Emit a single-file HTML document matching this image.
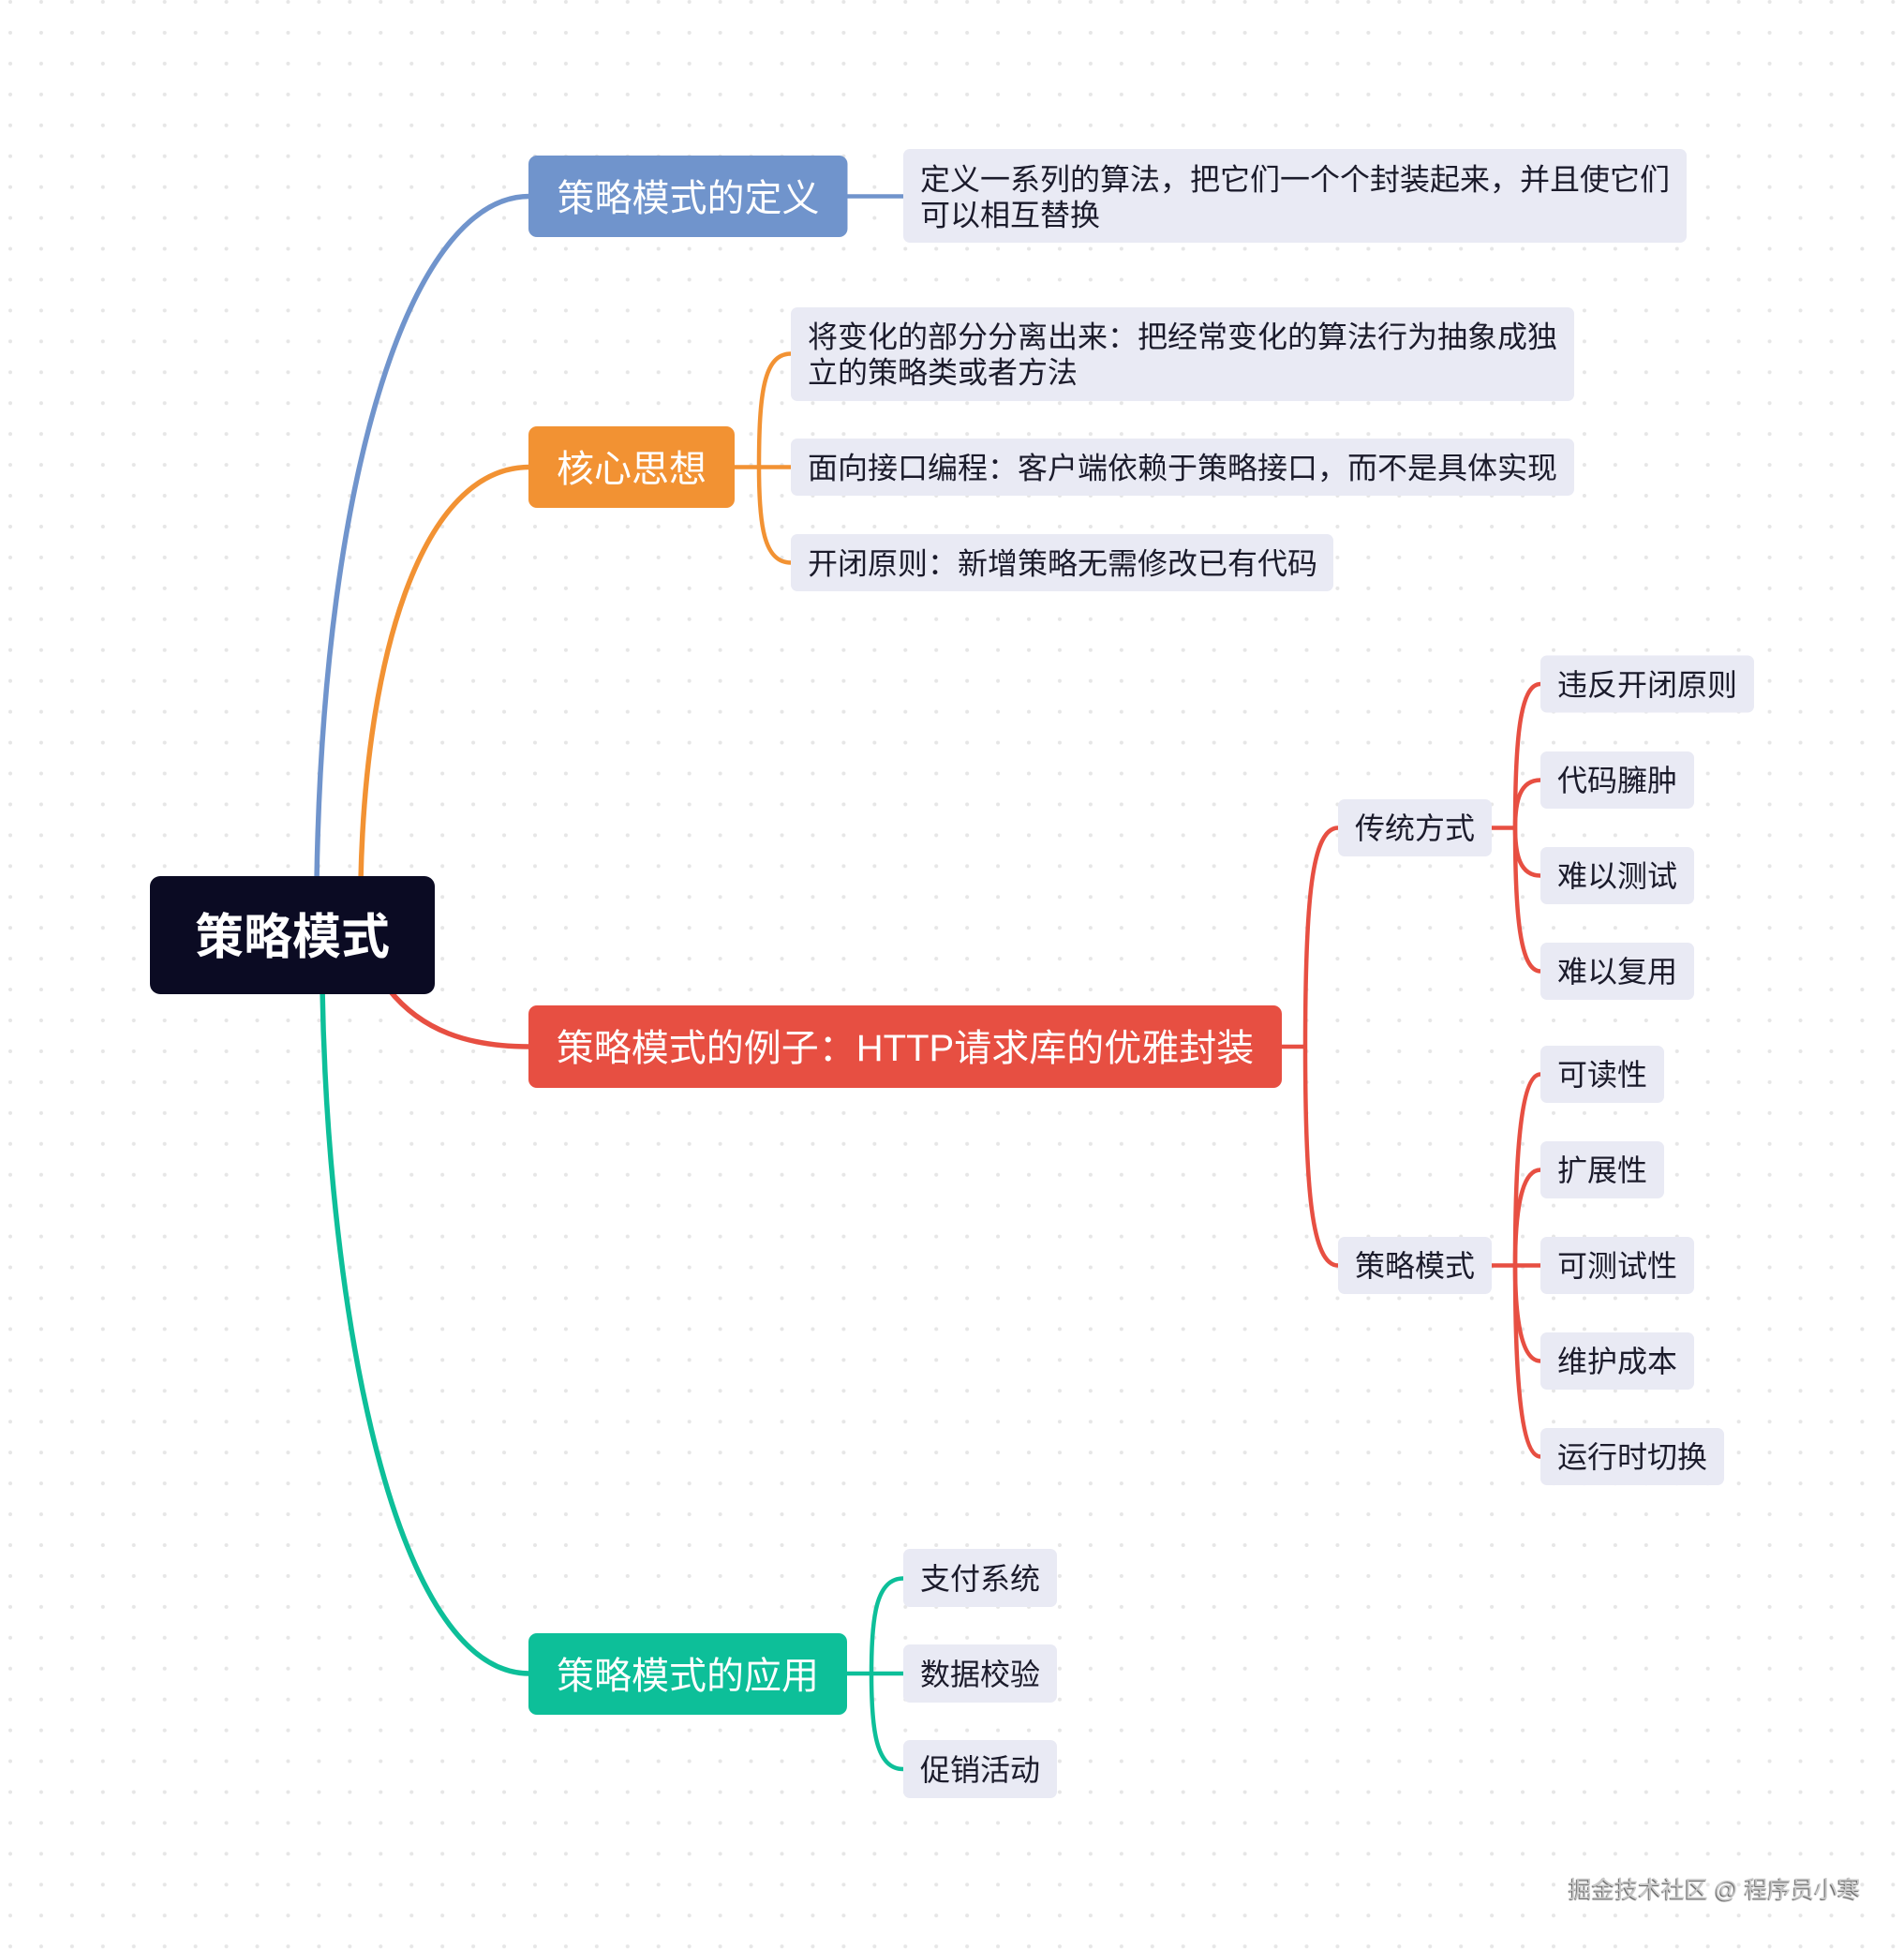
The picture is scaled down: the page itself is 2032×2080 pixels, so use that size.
<!DOCTYPE html>
<html lang="zh-CN"><head><meta charset="utf-8"><title>策略模式</title>
<style>
html,body{margin:0;padding:0;background:#fff;width:2032px;height:2080px;overflow:hidden}
svg{position:absolute;left:0;top:0;display:block}
text{font-family:"Liberation Sans","Noto Sans CJK SC",sans-serif;dominant-baseline:central}
.l1{font-size:40px;fill:#fff;text-anchor:middle;font-weight:400}
.l2{font-size:32px;fill:#1b1b2b;text-anchor:middle}
.ls{font-size:32px;fill:#1b1b2b;text-anchor:start}
.b{fill:none;stroke-width:5.5}
.s{fill:none;stroke-width:4.5}
.wm{position:absolute;left:1674px;top:2002px;font:24.8px/32px "Liberation Sans","Noto Sans CJK SC",sans-serif;color:#c8c8c8;white-space:pre;text-shadow:-1px 1px 1px #555}
</style></head><body>
<svg width="2032" height="2080" viewBox="0 0 2032 2080" xmlns="http://www.w3.org/2000/svg">
<defs>
<pattern id="d" x="11" y="2" width="32.94" height="32.94" patternUnits="userSpaceOnUse">
<circle cx="2" cy="2" r="2" fill="#e6e6e6"/>
</pattern>
</defs>
<rect x="-2" y="-2" width="2034" height="2082" fill="#fff"/>
<rect x="0" y="0" width="2034" height="2082" fill="url(#d)" transform="translate(-2,-2)"/>

<!-- main connectors -->
<path class="b" stroke="#7094cc" d="M338 940C345 500 440 209.500 565 209.500"/>
<path class="b" stroke="#f29233" d="M385 940C390 700 450 498.500 565 498.500"/>
<path class="b" stroke="#e74f42" d="M415 1056C450 1100 500 1117 565 1117"/>
<path class="b" stroke="#0dbf99" d="M344 1055C350 1400 420 1786 565 1786"/>

<!-- side connectors -->
<path class="s" stroke="#7094cc" d="M904 209.500H964"/>
<g stroke="#f29233"><path class="s" d="M783 498.500H844"/>
<path class="s" d="M810 498.500C810 420 815 377.500 844 377.500"/>
<path class="s" d="M810 498.500C810 560 815 600.500 844 600.500"/></g>
<g stroke="#e74f42">
<path class="s" d="M1367 1117H1393"/>
<path class="s" d="M1393 1117C1393 960 1400 883.500 1428 883.500"/>
<path class="s" d="M1393 1117C1393 1270 1400 1350.500 1428 1350.500"/>
<path class="s" d="M1591 883.500H1617"/>
<path class="s" d="M1617 883.500C1617 790 1622 730 1644 730"/>
<path class="s" d="M1617 883.500C1617 855 1622 832.500 1644 832.500"/>
<path class="s" d="M1617 883.500C1617 912 1622 934.500 1644 934.500"/>
<path class="s" d="M1617 883.500C1617 975 1622 1036.500 1644 1036.500"/>
<path class="s" d="M1591 1350.500H1644"/>
<path class="s" d="M1617 1350.500C1617 1240 1622 1146.500 1644 1146.500"/>
<path class="s" d="M1617 1350.500C1617 1300 1622 1248.500 1644 1248.500"/>
<path class="s" d="M1617 1350.500C1617 1400 1622 1452.500 1644 1452.500"/>
<path class="s" d="M1617 1350.500C1617 1460 1622 1554.500 1644 1554.500"/>
</g>
<g stroke="#0dbf99">
<path class="s" d="M903 1786H965"/>
<path class="s" d="M930 1786C930 1725 935 1684.500 964 1684.500"/>
<path class="s" d="M930 1786C930 1847 935 1888 964 1888"/>
</g>

<!-- root -->
<rect x="160" y="935" width="304" height="126" rx="11" fill="#0b0b23"/>
<text x="312" y="1001" style="font-size:52px;font-weight:700;fill:#fff;text-anchor:middle">策略模式</text>

<!-- level 1 -->
<rect x="564" y="166" width="340.500" height="87" rx="9" fill="#7094cc"/>
<text class="l1" x="734.500" y="212">策略模式的定义</text>
<rect x="564" y="455" width="220" height="87" rx="9" fill="#f29233"/>
<text class="l1" x="674" y="501">核心思想</text>
<rect x="564" y="1073" width="804" height="88" rx="9" fill="#e74f42"/>
<text class="l1" x="966" y="1119">策略模式的例子：HTTP请求库的优雅封装</text>
<rect x="564" y="1743" width="340" height="87" rx="9" fill="#0dbf99"/>
<text class="l1" x="734" y="1789">策略模式的应用</text>

<!-- leaves -->
<g fill="#e9eaf4">
<rect x="964" y="159" width="836" height="100" rx="7"/>
<rect x="844" y="328" width="836" height="100" rx="7"/>
<rect x="844" y="468" width="836" height="61" rx="7"/>
<rect x="844" y="570" width="579" height="61" rx="7"/>
<rect x="1428" y="853" width="164" height="61" rx="7"/>
<rect x="1428" y="1320" width="164" height="61" rx="7"/>
<rect x="1644" y="699.500" width="228" height="61" rx="7"/>
<rect x="1644" y="802" width="164" height="61" rx="7"/>
<rect x="1644" y="904" width="164" height="61" rx="7"/>
<rect x="1644" y="1006" width="164" height="61" rx="7"/>
<rect x="1644" y="1116" width="132" height="61" rx="7"/>
<rect x="1644" y="1218" width="132" height="61" rx="7"/>
<rect x="1644" y="1320" width="164" height="61" rx="7"/>
<rect x="1644" y="1422" width="164" height="61" rx="7"/>
<rect x="1644" y="1524" width="196" height="61" rx="7"/>
<rect x="964" y="1653" width="164" height="62" rx="7"/>
<rect x="964" y="1755" width="164" height="62" rx="7"/>
<rect x="964" y="1857" width="164" height="62" rx="7"/>
</g>
<text class="ls" x="982" y="191.500">定义一系列的算法，把它们一个个封装起来，并且使它们</text>
<text class="ls" x="982" y="229.500">可以相互替换</text>
<text class="ls" x="862" y="359.500">将变化的部分分离出来：把经常变化的算法行为抽象成独</text>
<text class="ls" x="862" y="397.500">立的策略类或者方法</text>
<text class="ls" x="862" y="499.500">面向接口编程：客户端依赖于策略接口，而不是具体实现</text>
<text class="ls" x="862" y="601.500">开闭原则：新增策略无需修改已有代码</text>
<text class="l2" x="1510" y="884">传统方式</text>
<text class="l2" x="1510" y="1351">策略模式</text>
<text class="l2" x="1758" y="731">违反开闭原则</text>
<text class="l2" x="1726" y="833">代码臃肿</text>
<text class="l2" x="1726" y="935">难以测试</text>
<text class="l2" x="1726" y="1037">难以复用</text>
<text class="l2" x="1710" y="1147">可读性</text>
<text class="l2" x="1710" y="1249">扩展性</text>
<text class="l2" x="1726" y="1351">可测试性</text>
<text class="l2" x="1726" y="1453">维护成本</text>
<text class="l2" x="1742" y="1555">运行时切换</text>
<text class="l2" x="1046" y="1685">支付系统</text>
<text class="l2" x="1046" y="1787">数据校验</text>
<text class="l2" x="1046" y="1889">促销活动</text>
</svg>
<div class="wm">掘金技术社区 @ 程序员小寒</div>
</body></html>
